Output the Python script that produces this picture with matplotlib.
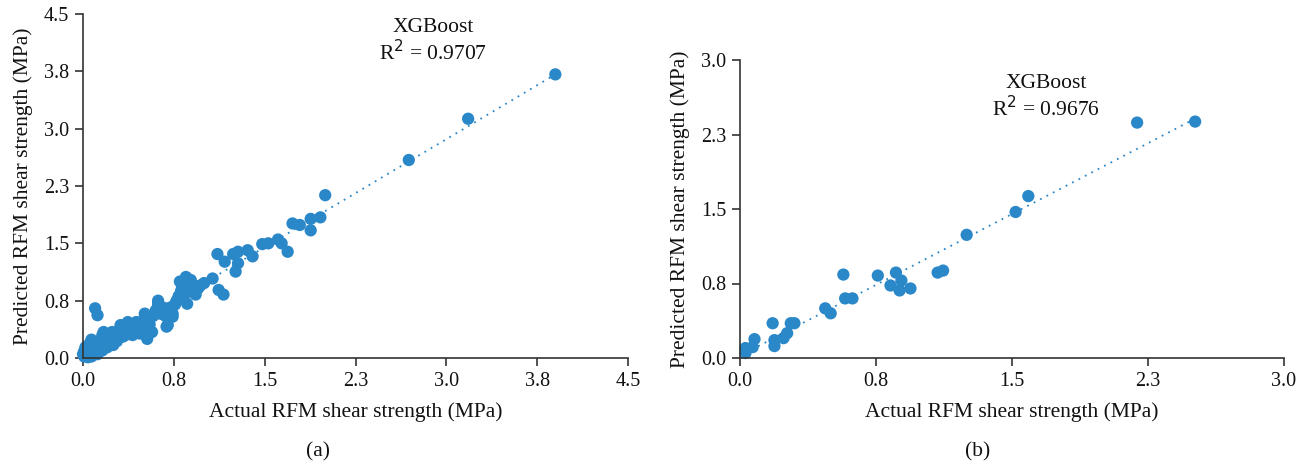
import numpy as np
import matplotlib
matplotlib.use("Agg")
import matplotlib.pyplot as plt

plt.rcParams['font.family'] = ['Liberation Serif', 'DejaVu Serif']

# panel (a) actual / predicted values (MPa)
a_actual = [3.90, 3.18, 2.69, 2.00, 1.96, 1.88, 1.88, 1.79, 1.73, 1.69, 1.64, 1.61, 1.53, 1.48,
            1.40, 1.36, 1.28, 1.26, 1.28, 1.24, 1.17, 1.11, 1.07, 1.12, 1.16, 0.86, 0.80, 0.82,
            0.88, 0.95, 0.62, 0.78,
            0.10, 0.12, 0.85, 0.87, 0.90, 0.86, 0.93, 0.83, 0.86, 0.77, 0.74, 0.70, 0.64, 0.62,
            0.64, 0.74, 0.69, 0.53, 0.51, 0.50, 0.57, 0.47, 0.49, 0.44, 0.37, 0.31, 0.41, 0.39,
            0.33, 0.26, 0.24, 0.17, 0.16, 0.07, 0.20, 0.25, 0.14, 0.04, 0.02, 0.00,
            0.03, 0.05, 0.06, 0.08, 0.09, 0.10, 0.11, 0.12, 0.13, 0.15, 0.16, 0.18, 0.19, 0.21,
            0.22, 0.23, 0.27, 0.28, 0.29, 0.30, 0.32, 0.34, 0.35, 0.36, 0.38, 0.40, 0.42, 0.43,
            0.45, 0.46, 0.48, 0.52, 0.54, 0.55, 0.58, 0.60, 0.66, 0.68, 0.72, 0.76, 0.79, 0.81,
            0.84, 0.89, 0.91, 0.97, 1.00, 0.01, 0.02, 0.04, 0.06, 0.01, 0.07, 0.13, 0.17, 0.20]
a_pred = [3.71, 3.13, 2.59, 2.13, 1.84, 1.82, 1.67, 1.74, 1.76, 1.39, 1.50, 1.55, 1.50, 1.49,
          1.33, 1.41, 1.39, 1.13, 1.24, 1.36, 1.26, 1.36, 1.04, 0.89, 0.83, 1.04, 1.00, 0.93,
          0.93, 0.91, 0.75, 0.76,
          0.65, 0.56, 1.06, 0.98, 0.96, 0.86, 0.83, 0.83, 0.71, 0.74, 0.58, 0.43, 0.58, 0.71,
          0.61, 0.54, 0.41, 0.25, 0.58, 0.50, 0.34, 0.32, 0.38, 0.47, 0.47, 0.43, 0.30, 0.38,
          0.28, 0.24, 0.34, 0.34, 0.30, 0.24, 0.14, 0.17, 0.12, 0.01, 0.14, 0.05,
          0.08, 0.03, 0.10, 0.06, 0.15, 0.09, 0.18, 0.05, 0.22, 0.20, 0.10, 0.25, 0.18, 0.27,
          0.22, 0.30, 0.30, 0.22, 0.35, 0.27, 0.33, 0.37, 0.30, 0.40, 0.34, 0.42, 0.36, 0.40,
          0.44, 0.36, 0.45, 0.48, 0.52, 0.44, 0.55, 0.62, 0.66, 0.55, 0.66, 0.70, 0.81, 0.88,
          0.96, 1.02, 0.87, 0.95, 0.98, 0.02, 0.11, 0.16, 0.20, 0.09, 0.02, 0.14, 0.23, 0.28]

# panel (b)
b_actual = [0.03, 0.03, 0.07, 0.08, 0.18, 0.19, 0.19, 0.24, 0.26, 0.28, 0.30, 0.47, 0.50, 0.57,
            0.58, 0.62, 0.76, 0.83, 0.86, 0.89, 0.88, 0.94, 1.09, 1.12, 1.25, 1.52, 1.59, 2.19, 2.51]
b_pred = [0.05, 0.10, 0.11, 0.19, 0.35, 0.18, 0.12, 0.20, 0.25, 0.35, 0.35, 0.50, 0.45, 0.84,
          0.60, 0.60, 0.83, 0.73, 0.86, 0.78, 0.68, 0.70, 0.86, 0.88, 1.24, 1.47, 1.63, 2.37, 2.38]

a_ticks = [0, 0.75, 1.5, 2.25, 3.0, 3.75, 4.5]
a_labels = ["0.0", "0.8", "1.5", "2.3", "3.0", "3.8", "4.5"]
b_ticks = [0, 0.75, 1.5, 2.25, 3.0]
b_labels = ["0.0", "0.8", "1.5", "2.3", "3.0"]

blue = '#2a87c8'
W, H = 1307, 468
fig = plt.figure(figsize=(W / 100, H / 100), dpi=100)


def panel(rect, xs, ys, ticks, labels, lim, r2, txt_xy, tag, tag_x):
    ax = fig.add_axes(rect)
    xs = np.array(xs)
    ys = np.array(ys)
    k, b = np.polyfit(xs, ys, 1)
    lx = np.array([xs.min(), xs.max()])
    ax.plot(lx, k * lx + b, color=blue, lw=1.3, ls=(0, (1, 3)), zorder=1)
    ax.scatter(xs, ys, s=78, color=blue, edgecolors='none', zorder=2, clip_on=False)
    ax.set_xlim(0, lim)
    ax.set_ylim(0, lim)
    ax.set_xticks(ticks)
    ax.set_xticklabels(labels)
    ax.set_yticks(ticks)
    ax.set_yticklabels(labels)
    for s in ['top', 'right']:
        ax.spines[s].set_visible(False)
    for s in ['left', 'bottom']:
        ax.spines[s].set_color('#333333')
        ax.spines[s].set_linewidth(1.2)
    ax.tick_params(direction='out', length=6, width=1.2, color='#333333',
                   labelsize=14.5, labelcolor='#111111', pad=4)
    ax.set_xlabel('Actual RFM shear strength (MPa)', fontsize=15.5, color='#111111', labelpad=8)
    ax.set_ylabel('Predicted RFM shear strength (MPa)', fontsize=15.5, color='#111111', labelpad=8)
    fig.text(txt_xy[0] / W, 1 - txt_xy[1] / H, 'XGBoost', ha='center', va='center',
             fontsize=15.5, color='#111111')
    fig.text(txt_xy[0] / W, 1 - (txt_xy[1] + 26) / H, 'R$^{2}$ = ' + r2, ha='center',
             va='center', fontsize=15.5, color='#111111')
    fig.text(tag_x / W, 1 - 452 / H, tag, ha='center', va='center', fontsize=15.5, color='#111111')
    return ax


panel([83 / W, 1 - 358 / H, 545 / W, 344 / H], a_actual, a_pred, a_ticks, a_labels, 4.5,
      '0.9707', (433, 27), '(a)', 318)
panel([740 / W, 1 - 358 / H, 544 / W, 298 / H], b_actual, b_pred, b_ticks, b_labels, 3.0,
      '0.9676', (1046, 83), '(b)', 978)

fig.savefig('out.png', dpi=100)
